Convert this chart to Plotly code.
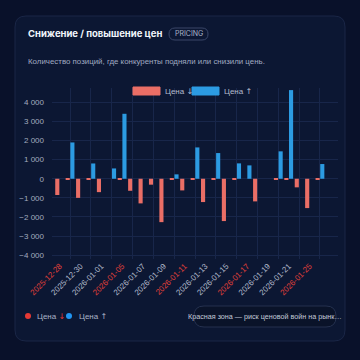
import plotly.graph_objects as go

# ---------------- data ----------------
dates = ["2025-12-28", "2025-12-29", "2025-12-30", "2025-12-31", "2026-01-01", "2026-01-03",
         "2026-01-05", "2026-01-06", "2026-01-07", "2026-01-08", "2026-01-09", "2026-01-10",
         "2026-01-11", "2026-01-12", "2026-01-13", "2026-01-14", "2026-01-15", "2026-01-16",
         "2026-01-17", "2026-01-18", "2026-01-19", "2026-01-20", "2026-01-21", "2026-01-23",
         "2026-01-25", "2026-01-26"]
price_down = [-850, -30, -1000, -30, -700, 0, -30, -630, -1290, -310, -2270, -30,
              -610, -30, -1220, -30, -2215, -30, 0, -1185, 0, -30, -30, -450, -1535, -30]
price_up = [0, 1900, 0, 800, 0, 540, 3400, 0, 0, 0, 0, 230,
            0, 1640, 0, 1345, 0, 805, 700, 0, 0, 1435, 4640, 0, 0, 770]
red_dates = ["2025-12-28", "2026-01-05", "2026-01-11", "2026-01-17", "2026-01-25"]
series_names = ["Цена ↓", "Цена ↑"]
title = "Снижение / повышение цен"
badge = "PRICING"
subtitle = "Количество позиций, где конкуренты подняли или снизили цень."
note = "Красная зона — риск ценовой войн на рынк…"

# ---------------- style ----------------
W, H = 360, 360
ML, MR, MT, MB = 52, 22, 88, 101
PW, PH = W - ML - MR, H - MT - MB
RED, BLUE = "#ea6e66", "#2c9be2"
BG, CARD = "#09112a", "#0c1733"
GRID = "#18264a"
FONT = "Liberation Sans, DejaVu Sans, Arial, sans-serif"


def px(x):
    return (x - ML) / PW


def py(y):
    return (H - MB - y) / PH


def rrect(x0, y0, x1, y1, r):
    X0, X1, Y0, Y1 = px(x0), px(x1), py(y0), py(y1)
    rx, ry = r / PW, r / PH
    return (f"M{X0+rx},{Y0} L{X1-rx},{Y0} Q{X1},{Y0} {X1},{Y0-ry} "
            f"L{X1},{Y1+ry} Q{X1},{Y1} {X1-rx},{Y1} L{X0+rx},{Y1} "
            f"Q{X0},{Y1} {X0},{Y1+ry} L{X0},{Y0-ry} Q{X0},{Y0} {X0+rx},{Y0} Z")


def arrow_label(name, color=None):
    base, arr = name[:-1], name[-1]
    style = "font-family:DejaVu Sans" + (f";color:{color}" if color else "")
    return f'{base}<span style="{style}">{arr}</span>'


tick_vals = dates[::2]
tick_text = [f'<span style="color:#e0403a">{d}</span>' if d in red_dates else d for d in tick_vals]

fig = go.Figure()
fig.add_trace(go.Bar(x=dates, y=price_down, name=series_names[0], marker_color=RED,
                     marker_line_width=0, showlegend=False))
fig.add_trace(go.Bar(x=dates, y=price_up, name=series_names[1], marker_color=BLUE,
                     marker_line_width=0, showlegend=False))
# helper axis for grid lines between labelled ticks
fig.add_trace(go.Scatter(x=dates[1::2], y=[None] * len(dates[1::2]), xaxis="x2",
                         showlegend=False, hoverinfo="skip"))

shapes = [
    dict(type="path", xref="paper", yref="paper", path=rrect(15, 16, 345, 341, 11),
         fillcolor=CARD, line=dict(color="#1a2646", width=1), layer="below"),
    dict(type="path", xref="paper", yref="paper", path=rrect(169, 28, 208, 40, 6),
         fillcolor="rgba(0,0,0,0)", line=dict(color="#3a4668", width=1)),
    # top legend boxes
    dict(type="rect", xref="paper", yref="paper", x0=px(133), x1=px(160), y0=py(87), y1=py(95),
         fillcolor=RED, line=dict(color=RED, width=1)),
    dict(type="rect", xref="paper", yref="paper", x0=px(192), x1=px(219), y0=py(87), y1=py(95),
         fillcolor=BLUE, line=dict(color=BLUE, width=1)),
    # bottom legend dots
    dict(type="circle", xref="paper", yref="paper", x0=px(25), x1=px(31), y0=py(313), y1=py(319),
         fillcolor="#e53935", line=dict(width=0)),
    dict(type="circle", xref="paper", yref="paper", x0=px(66), x1=px(72), y0=py(313), y1=py(319),
         fillcolor="#2196f3", line=dict(width=0)),
    # note pill
    dict(type="path", xref="paper", yref="paper", path=rrect(194, 306, 336, 327, 10),
         fillcolor="#0a1329", line=dict(color="#25314f", width=1)),
]

annotations = [
    dict(text=f"<b>{title}</b>", x=px(26), y=py(34), xanchor="left", yanchor="middle",
         font=dict(family="Inter, sans-serif", size=9.5, color="#f2f5fb")),
    dict(text=badge, x=px(188.5), y=py(34), xanchor="center", yanchor="middle",
         font=dict(family="Inter, sans-serif", size=7, color="#a9b3c8")),
    dict(text=subtitle, x=px(26), y=py(62), xanchor="left", yanchor="middle",
         font=dict(family=FONT, size=7.9, color="#a0aac0")),
    dict(text=arrow_label(series_names[0]), x=px(163), y=py(91), xanchor="left", yanchor="middle",
         font=dict(family=FONT, size=8, color="#b4bccd")),
    dict(text=arrow_label(series_names[1]), x=px(222), y=py(91), xanchor="left", yanchor="middle",
         font=dict(family=FONT, size=8, color="#b4bccd")),
    dict(text=arrow_label(series_names[0], "#e53935"), x=px(35), y=py(316),
         xanchor="left", yanchor="middle", font=dict(family=FONT, size=8, color="#aab3c6")),
    dict(text=arrow_label(series_names[1]), x=px(77), y=py(316), xanchor="left", yanchor="middle",
         font=dict(family=FONT, size=8, color="#aab3c6")),
    dict(text=note, x=px(265), y=py(316.5), xanchor="center", yanchor="middle",
         font=dict(family=FONT, size=7.2, color="#c3cad8")),
]
for a in annotations:
    a.update(xref="paper", yref="paper", showarrow=False)

fig.update_layout(
    width=W, height=H, margin=dict(l=ML, r=MR, t=MT, b=MB),
    paper_bgcolor=BG, plot_bgcolor="rgba(0,0,0,0)",
    barmode="group", bargap=0.1, bargroupgap=0.12,
    separators=". ",
    font=dict(family=FONT, size=8, color="#a7b0c3"),
    shapes=shapes, annotations=annotations, showlegend=False,
    xaxis=dict(type="category", categoryorder="array", categoryarray=dates,
               tickmode="array", tickvals=tick_vals, ticktext=tick_text, tickangle=-45,
               showgrid=False, zeroline=False, showline=False, ticks="",
               tickfont=dict(size=8, color="#b3bbcb")),
    xaxis2=dict(type="category", categoryorder="array", categoryarray=dates,
                overlaying="x", matches="x", tickmode="array", tickvals=dates[1::2],
                showticklabels=False, showgrid=True, gridcolor=GRID, gridwidth=1,
                zeroline=False, ticks=""),
    yaxis=dict(range=[-4200, 4750], tickmode="linear", tick0=0, dtick=1000,
               separatethousands=True, showgrid=True, gridcolor=GRID, gridwidth=1,
               zeroline=False, showline=False, ticks="", ticklabelstandoff=7,
               tickfont=dict(size=8, color="#a3acbf")),
)

fig.write_html("out.html", config={"displayModeBar": False},
               post_script="document.body.style.margin='0px';document.body.style.background='%s';" % BG)
